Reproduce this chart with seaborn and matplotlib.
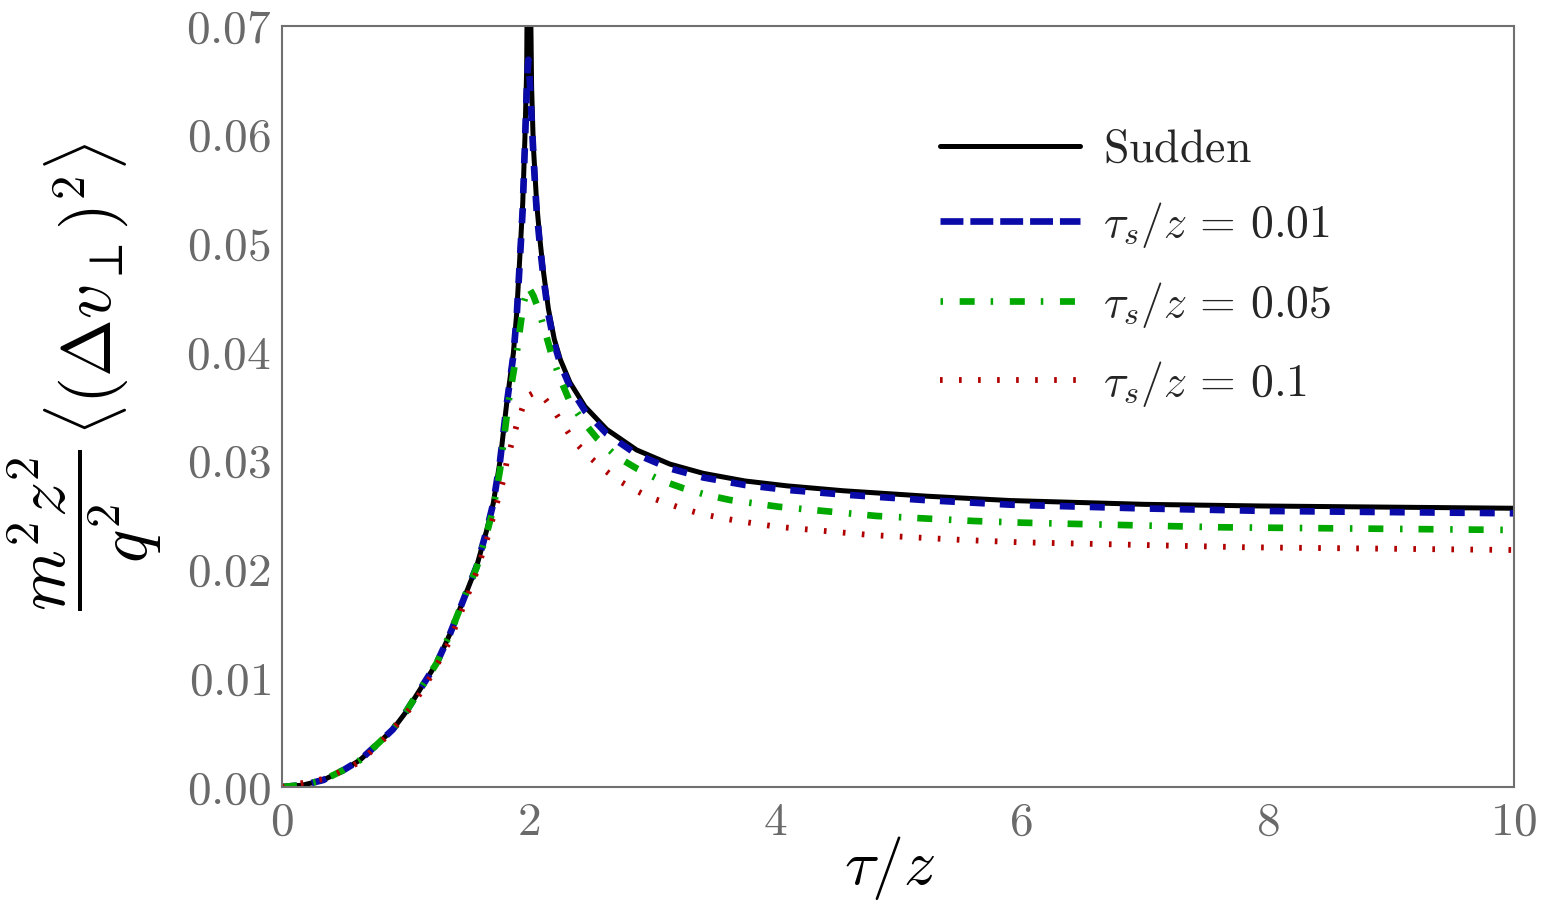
import numpy as np
import pandas as pd
import matplotlib
matplotlib.use("Agg")
import matplotlib.pyplot as plt
from matplotlib.lines import Line2D
from matplotlib.ticker import MultipleLocator, FuncFormatter
import seaborn as sns

# ---------------- data ----------------
x_sudden = [0.0, 0.17, 0.335, 0.5, 0.633, 0.77, 0.9, 1.0, 1.15, 1.256, 1.364, 1.472,
            1.58, 1.661, 1.715, 1.77, 1.824, 1.878, 1.905, 1.932, 1.954, 1.972, 1.986,
            2.0, 2.026, 2.04, 2.067, 2.094, 2.121, 2.162, 2.21, 2.26, 2.338, 2.459,
            2.635, 2.879, 3.149, 3.42, 3.758, 4.1, 4.556, 5.233, 5.909, 7.0, 7.94, 10.0]
y_sudden = [0.0, 0.00018, 0.00064, 0.00156, 0.00248, 0.0039, 0.0053, 0.0068, 0.0095,
            0.0114, 0.0141, 0.0172, 0.0203, 0.0236, 0.0261, 0.0300, 0.0353, 0.0399,
            0.0436, 0.0491, 0.0537, 0.0598, 0.0660, 0.0900, 0.0644, 0.0590, 0.0537,
            0.0503, 0.0475, 0.0440, 0.0412, 0.0393, 0.0372, 0.0350, 0.0329, 0.0310,
            0.0297, 0.02885, 0.02815, 0.0277, 0.02725, 0.02675, 0.02635, 0.0260,
            0.02585, 0.02564]

x_s001 = [0.0, 0.17, 0.335, 0.5, 0.633, 0.77, 0.9, 1.0, 1.15, 1.256, 1.364, 1.472,
          1.58, 1.661, 1.715, 1.77, 1.824, 1.878, 1.905, 1.932, 1.954, 1.972, 1.99,
          2.0, 2.01, 2.03, 2.05, 2.067, 2.094, 2.121, 2.162, 2.21, 2.26, 2.338, 2.459,
          2.635, 2.879, 3.149, 3.42, 3.758, 4.1, 4.556, 5.233, 5.909, 7.0, 8.0, 10.0]
y_s001 = [0.0, 0.00018, 0.00064, 0.00156, 0.00248, 0.0039, 0.0053, 0.0068, 0.0095,
          0.0114, 0.0141, 0.0172, 0.0203, 0.0236, 0.0261, 0.0300, 0.0352, 0.0397,
          0.0433, 0.0487, 0.0532, 0.0592, 0.0652, 0.0669, 0.0652, 0.0605, 0.0562,
          0.0530, 0.0498, 0.0470, 0.0435, 0.0408, 0.0389, 0.0368, 0.0346, 0.0325,
          0.0306, 0.0293, 0.02847, 0.02778, 0.02733, 0.02690, 0.02638, 0.02597,
          0.02562, 0.02539, 0.02518]

x_s005 = [0.0, 0.17, 0.335, 0.5, 0.633, 0.77, 0.9, 1.0, 1.15, 1.256, 1.364, 1.472,
          1.58, 1.661, 1.715, 1.77, 1.837, 1.905, 1.93, 1.96, 2.0, 2.04, 2.08, 2.135,
          2.19, 2.256, 2.338, 2.446, 2.554, 2.716, 2.879, 3.068, 3.257, 3.447, 3.636,
          4.03, 4.826, 5.611, 6.017, 7.614, 8.0, 10.0]
y_s005 = [0.0, 0.00018, 0.00064, 0.00156, 0.00248, 0.0039, 0.0053, 0.0068, 0.0095,
          0.0114, 0.0141, 0.0172, 0.0202, 0.0233, 0.0256, 0.0292, 0.0353, 0.0399,
          0.0420, 0.0445, 0.0460, 0.0452, 0.0440, 0.0419, 0.0397, 0.0376, 0.0354,
          0.0336, 0.0321, 0.0304, 0.0293, 0.02824, 0.02748, 0.02686, 0.0264,
          0.02578, 0.02493, 0.02447, 0.02431, 0.02389, 0.02385, 0.02364]

x_s01 = [0.0, 0.363, 0.633, 0.863, 1.053, 1.215, 1.364, 1.472, 1.58, 1.675, 1.756,
         1.796, 1.824, 1.864, 1.905, 1.95, 1.985, 2.05, 2.107, 2.197, 2.283, 2.365,
         2.473, 2.581, 2.703, 2.838, 2.973, 3.122, 3.257, 3.406, 3.555, 3.704, 3.866,
         4.015, 4.773, 5.53, 5.99, 7.83, 10.0]
y_s01 = [0.0, 0.0008, 0.0023, 0.0048, 0.0074, 0.0103, 0.0135, 0.0166, 0.0198, 0.0232,
         0.0266, 0.0282, 0.0299, 0.0316, 0.0333, 0.0348, 0.0359, 0.0363, 0.0361,
         0.0348, 0.0333, 0.0319, 0.0306, 0.0295, 0.0284, 0.02748, 0.0267, 0.0261,
         0.02558, 0.02512, 0.02477, 0.02447, 0.02419, 0.02394, 0.02318, 0.02272,
         0.02251, 0.02205, 0.0218]

labels = [r"$\mathrm{Sudden}$", r"$\tau_s/z\, =\, 0.01$",
          r"$\tau_s/z\, =\, 0.05$", r"$\tau_s/z\, =\, 0.1$"]
x_ticks = [0, 2, 4, 6, 8, 10]
y_ticks = [0.00, 0.01, 0.02, 0.03, 0.04, 0.05, 0.06, 0.07]
ylabel_frac = r"$\dfrac{m^2 z^2}{q^2}$"
ylabel_rest = r"$\langle(\Delta v_\perp)^2\rangle$"
xlabel = r"$\tau/z$"

# ---------------- style ----------------
sns.set_theme(style="white")
plt.rcParams["mathtext.fontset"] = "cm"
plt.rcParams["font.family"] = ["cmr10", "DejaVu Serif"]
plt.rcParams["axes.formatter.use_mathtext"] = True
plt.rcParams["lines.scale_dashes"] = False

FRAME = "#707070"
TICKLAB = "#6a6a6a"

fig = plt.figure(figsize=(15.44, 9.14), dpi=100)
ax = fig.add_axes([282 / 1544, 1 - 787 / 914, 1232 / 1544, 761 / 914])

series = [
    (x_sudden, y_sudden, "black", 3.6, None),
    (x_s001, y_s001, "#0a0aa8", 4.8, [10.8, 10.8]),
    (x_s005, y_s005, "#00a800", 4.8, [10.8, 12.0, 1.8, 11.5]),
    (x_s01, y_s01, "#b00000", 4.2, [1.9, 11.8]),
]

for (xs, ys, col, lw, dash), lab in zip(series, labels):
    df = pd.DataFrame({"x": xs, "y": ys})
    sns.lineplot(data=df, x="x", y="y", ax=ax, color=col, linewidth=lw,
                 estimator=None, sort=False, legend=False)
    ln = ax.lines[-1]
    ln.set_solid_joinstyle("round")
    if dash is not None:
        ln.set_dashes(dash)
        ln.set_dash_capstyle("butt")

ax.set_xlim(0, 10)
ax.set_ylim(0, 0.07)
ax.set_xticks(x_ticks)
ax.set_yticks(y_ticks)
ax.yaxis.set_minor_locator(MultipleLocator(0.002))
ax.xaxis.set_major_formatter(FuncFormatter(lambda v, p: rf"${v:.0f}$"))
ax.yaxis.set_major_formatter(FuncFormatter(lambda v, p: rf"${v:.2f}$"))

ax.tick_params(axis="both", which="both", direction="in", colors=FRAME,
               labelcolor=TICKLAB, top=False, right=False, width=1.2)
ax.tick_params(axis="both", which="major", length=7.5, labelsize=34)
ax.tick_params(axis="y", which="minor", length=4.5)
ax.tick_params(axis="x", which="major", pad=11)
ax.tick_params(axis="y", which="major", pad=8)

for sp in ax.spines.values():
    sp.set_color(FRAME)
    sp.set_linewidth(1.5)
    sp.set_visible(True)

ax.set_xlabel(xlabel, fontsize=46, color="black")
ax.xaxis.set_label_coords(0.4935, -0.062)
ax.xaxis.label.set_va("top")
ax.set_ylabel("")

# y label in two pieces so the fraction and the bracket sit as in the reference
fig.text(85 / 1544, 1 - 530 / 914, ylabel_frac, fontsize=50, rotation=90,
         ha="center", va="center", color="black")
fig.text(86 / 1544, 1 - 289 / 914, ylabel_rest, fontsize=50, rotation=90,
         ha="center", va="center", color="black")

handles = [
    Line2D([], [], color="black", lw=3.6),
    Line2D([], [], color="#0a0aa8", lw=4.8, dashes=[16.5, 5.0], dash_capstyle="butt"),
    Line2D([], [], color="#00a800", lw=4.8, dashes=[1.8, 12.0, 10.8, 11.5], dash_capstyle="butt"),
    Line2D([], [], color="#b00000", lw=4.2, dashes=[1.9, 11.8], dash_capstyle="butt"),
]
leg = ax.legend(handles, labels, loc="upper left", bbox_to_anchor=(0.534, 0.864),
                frameon=False, fontsize=33, handlelength=3.05, handletextpad=0.5,
                labelspacing=0.64, borderpad=0, borderaxespad=0)

fig.savefig("out.png", dpi=100)
